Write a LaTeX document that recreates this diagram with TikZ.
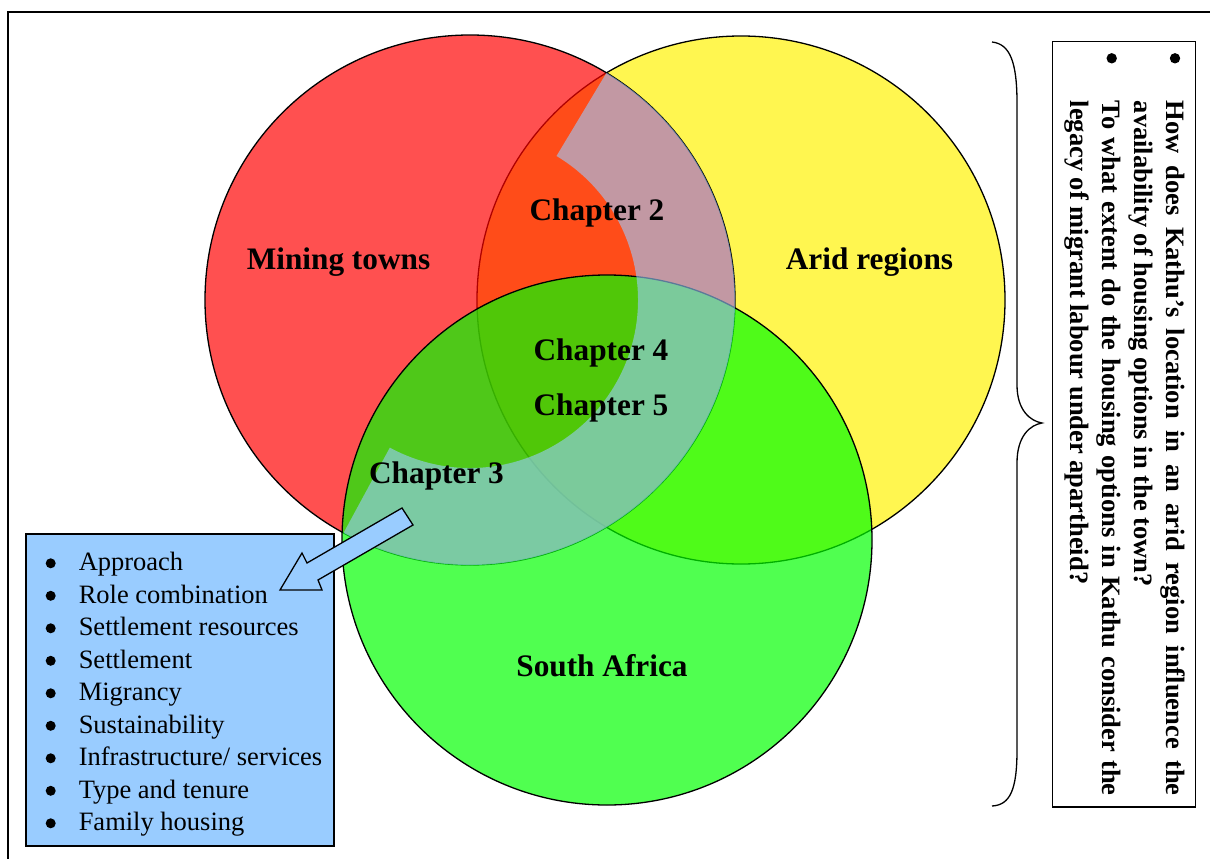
\documentclass[tikz,border=0pt]{standalone}
\usepackage{fontspec}
\setmainfont{Liberation Serif}
\usetikzlibrary{calc}
\definecolor{lblue}{HTML}{99CCFF}
\begin{document}
\begin{tikzpicture}[x=1pt,y=-1pt,
  venn/.style={draw=black, line width=1.3pt, fill opacity=0.686, draw opacity=1},
  lbl/.style={font=\fontsize{31.3}{36}\selectfont\bfseries, anchor=base, inner sep=0pt},
  boxline/.style={draw=black, line width=1.5pt},
  bul/.style={fill=black},
]
\useasboundingbox (0,0) rectangle (1210,859);
% outer frame
\draw[line width=1.5pt] (8,920) -- (8,12) -- (1260,12);

\coordinate (cy) at (741,300);
\coordinate (cr) at (470,300);
\coordinate (cg) at (607,540);

\draw[venn, fill=yellow] (cy) circle[radius=264];
\draw[venn, fill=red] (cr) circle[radius=265];
\draw[venn, fill=green] (cg) circle[radius=265];

% translucent band
\fill[lblue, fill opacity=0.6]
  ($(cr)+(-59:265)$) arc[start angle=-59, end angle=118.5, radius=265]
  -- ($(cr)+(118.5:168)$) arc[start angle=118.5, end angle=-59, radius=168] -- cycle;

% labels
\node[lbl] (mining) at (338.5,269) {Mining towns};
\node[lbl] (arid) at (869.5,269) {Arid regions};
\node[lbl] (sa) at (602,676) {South Africa};
\node[lbl] (ch2) at (597,220) {Chapter 2};
\node[lbl] (ch4) at (601,360) {Chapter 4};
\node[lbl] (ch5) at (601,415) {Chapter 5};
\node[lbl] (ch3) at (436.5,483) {Chapter 3};

% list box
\node[boxline, fill=lblue, inner sep=0pt, anchor=north west, text height=37pt, text depth=275pt] (list) at (25,533)
{\begin{minipage}[t]{308pt}\fontsize{26.5}{32.5}\selectfont\parindent=0pt\leftskip=53pt
Approach\par
Role combination\par
Settlement resources\par
Settlement\par
Migrancy\par
Sustainability\par
Infrastructure/ services\par
Type and tenure\par
Family housing\par
\end{minipage}};
\foreach \k in {0,...,8} \fill[bul] (50.7,{563.3+32.5*\k}) circle[radius=5pt];

% block arrow
\draw[line width=1.3pt, fill=lblue, line join=miter]
  (402,508) -- (307,563) -- (302,553) -- (280,590) -- (322,590) -- (318,580) -- (413,525) -- cycle;

% brace
\draw[line width=1.3pt]
  (992,42) .. controls (1010,44) and (1017,62) .. (1017,103)
  -- (1017,385) .. controls (1017,410) and (1030,421) .. (1042,423)
  .. controls (1030,425) and (1017,436) .. (1017,463)
  -- (1017,750) .. controls (1017,790) and (1010,805) .. (992,806);

% question box
\node[boxline, fill=white, inner sep=0pt, rotate=-90, anchor=north west, text height=29pt, text depth=114pt] (q) at (1196,41)
{\begin{minipage}[t]{765pt}\fontsize{26.5}{32}\selectfont\bfseries
\hyphenpenalty=10000 \tolerance=9999 \rightskip=11pt \leftskip=59pt \parindent=0pt
How does Kathu’s location in an arid region influence the availability of housing options in the town?\par
To what extent do the housing options in Kathu consider the legacy of migrant labour under apartheid?\par
\end{minipage}};
\fill[bul] (1175,58.3) circle[radius=5.2pt];
\fill[bul] (1111.7,58.3) circle[radius=5.2pt];
\end{tikzpicture}
\end{document}
